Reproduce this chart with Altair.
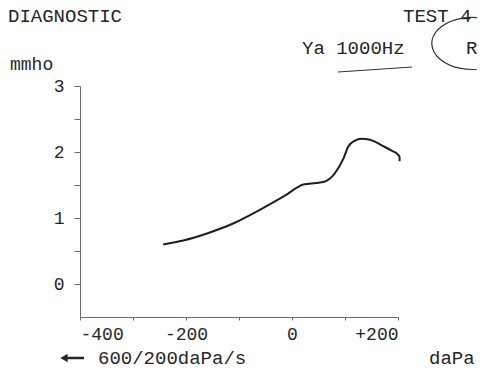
import altair as alt
import pandas as pd

# Tympanogram trace (pressure daPa, admittance mmho)
pressure = [-243, -205, -159, -110, -59, -15, 23, 45, 61, 80, 97, 106, 118, 131, 145, 155, 172, 188, 200, 203, 203]
admittance = [0.60, 0.66, 0.77, 0.92, 1.13, 1.33, 1.51, 1.53, 1.55, 1.67, 1.90, 2.08, 2.17, 2.20, 2.19, 2.16, 2.09, 2.02, 1.96, 1.92, 1.86]

x_ticks = [-400, -300, -200, -100, 0, 100, 200]
y_ticks = [0, 0.5, 1, 1.5, 2, 2.5, 3]

df = pd.DataFrame({"p": pressure, "y": admittance, "i": list(range(len(pressure)))})

FONT = "Liberation Mono"
INK = "#262626"
AX = "#6a6a6a"

curve = alt.Chart(df).mark_line(color="#1e1e1e", strokeWidth=2, interpolate="monotone").encode(
    x=alt.X("p:Q", scale=alt.Scale(domain=[-400, 200], nice=False, zero=False),
            axis=alt.Axis(values=x_ticks, title=None, grid=False, domainColor=AX, tickColor=AX,
                          tickSize=3, labelFont=FONT, labelFontSize=18, labelColor=INK, labelPadding=5,
                          labelExpr="datum.value % 200 == 0 ? (datum.value > 0 ? '+' + datum.value : '' + datum.value) : ''")),
    y=alt.Y("y:Q", scale=alt.Scale(domain=[-0.5, 3], nice=False, zero=False),
            axis=alt.Axis(values=y_ticks, title=None, grid=False, domainColor=AX, tickColor=AX,
                          tickSize=6, labelFont=FONT, labelFontSize=18, labelColor=INK, labelPadding=10,
                          labelExpr="datum.value % 1 == 0 ? '' + datum.value : ''")),
    order="i:Q",
)

def txt(s, x, y, size=19, weight="normal"):
    return alt.Chart(pd.DataFrame({"t": [s]})).mark_text(
        font=FONT, fontSize=size, color=INK, align="left", baseline="alphabetic", fontWeight=weight
    ).encode(text="t:N", x=alt.value(x), y=alt.value(y))

texts = [
    txt("DIAGNOSTIC", -72, -64),
    txt("TEST 4", 323, -64),
    txt("Ya 1000Hz", 222, -32),
    txt("R", 386, -32),
    txt("mmho", -70, -16, size=18),
    txt("600/200daPa/s", 18, 278),
    txt("daPa", 349, 278),
]

# sweep-direction arrow
arrow_shaft = alt.Chart(pd.DataFrame({"a": [0]})).mark_rule(color=INK, strokeWidth=2.5).encode(
    x=alt.value(-14), x2=alt.value(4), y=alt.value(272)
)
arrow_head = alt.Chart(pd.DataFrame({"a": [0]})).mark_point(
    shape="triangle-left", filled=True, color=INK, size=70, opacity=1
).encode(x=alt.value(-16), y=alt.value(272))

underline = alt.Chart(pd.DataFrame({"a": [0]})).mark_rule(color="#333", strokeWidth=1).encode(
    x=alt.value(258), x2=alt.value(332), y=alt.value(-14), y2=alt.value(-19)
)

# hand-drawn ellipse around "R"
circle = alt.Chart(pd.DataFrame({"a": [0]})).mark_point(
    shape="M 0.075 -0.65 A 1 0.65 0 1 0 0.2 0.6",
    filled=False, stroke="#333", strokeWidth=1.2, size=6400, opacity=1
).encode(x=alt.value(397), y=alt.value(-42))

chart = alt.layer(curve, underline, circle, arrow_shaft, arrow_head, *texts).properties(
    width=318, height=231,
    autosize=alt.AutoSizeParams(type="none"),
    padding={"left": 72, "top": 78, "right": 79, "bottom": 54},
    background="white",
).configure_view(strokeWidth=0)

chart.save("out.html", embed_options={"renderer": "svg", "actions": False})
